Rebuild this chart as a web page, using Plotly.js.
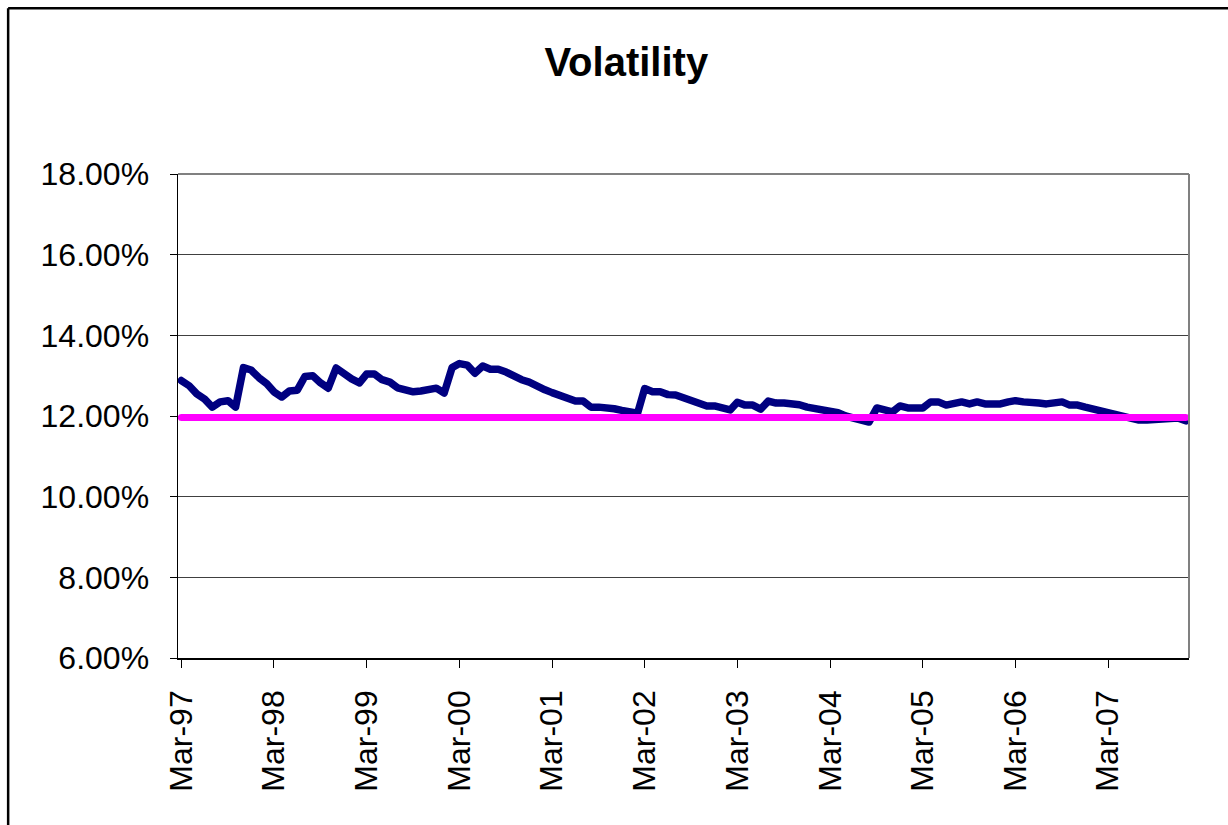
<!DOCTYPE html>
<html>
<head>
<meta charset="utf-8">
<script src="https://cdn.plot.ly/plotly-3.0.1.min.js"></script>
<style>
  html, body { margin: 0; padding: 0; background: #ffffff; }
  #chart { width: 1228px; height: 825px; }
  #chart .scatterlayer path.js-line { stroke-linejoin: round; stroke-linecap: round; }
</style>
</head>
<body>
<div id="chart"></div>
<script>
// ---- data ----
const startYear = 1997;
const startMonth = 3; // March
const volatility = [
  12.88, 12.75, 12.55, 12.42, 12.22, 12.35, 12.38, 12.22, 13.20, 13.14,
  12.95, 12.80, 12.60, 12.47, 12.62, 12.64, 12.98, 13.00, 12.82, 12.69,
  13.19, 13.05, 12.92, 12.82, 13.04, 13.04, 12.90, 12.84, 12.70, 12.65,
  12.60, 12.62, 12.65, 12.69, 12.57, 13.20, 13.30, 13.26, 13.06, 13.24,
  13.16, 13.16, 13.09, 12.97, 12.90, 12.84, 12.72, 12.65, 12.58, 12.50,
  12.42, 12.37, 12.37, 12.22, 12.22, 12.22, 12.18, 12.14, 12.10, 12.07,
  12.68, 12.60, 12.60, 12.53, 12.52, 12.45, 12.38, 12.30, 12.25, 12.25,
  12.20, 12.15, 12.34, 12.27, 12.27, 12.17, 12.37, 12.32, 12.32, 12.32,
  12.28, 12.22, 12.18, 12.15, 12.15, 12.08, 12.00, 11.95, 11.86, 11.85,
  12.20, 12.15, 12.10, 12.25, 12.20, 12.20, 12.20, 12.35, 12.35, 12.27,
  12.30, 12.35, 12.30, 12.35, 12.30, 12.30, 12.30, 12.35, 12.38, 12.35,
  12.35, 12.32, 12.30, 12.33, 12.35, 12.27, 12.27, 12.22, 12.17, 12.13,
  12.10, 12.03, 11.97, 11.92, 11.90, 11.90, 11.92, 11.95, 11.95, 11.95,
  11.88
];
const averageLevel = 11.96;
const yTickVals = [6, 8, 10, 12, 14, 16, 18];

// monthly date labels
const dates = volatility.map((_, i) => {
  const total = (startMonth - 1) + i;
  const y = startYear + Math.floor(total / 12);
  const m = (total % 12) + 1;
  return y + '-' + String(m).padStart(2, '0') + '-01';
});

const traces = [
  {
    x: dates,
    y: volatility,
    type: 'scatter',
    mode: 'lines',
    line: { color: '#000080', width: 7.5 },
    hoverinfo: 'skip',
    showlegend: false
  },
  {
    x: [dates[0], dates[dates.length - 1]],
    y: [averageLevel, averageLevel],
    type: 'scatter',
    mode: 'lines',
    line: { color: '#FF00FF', width: 7 },
    hoverinfo: 'skip',
    showlegend: false
  }
];

const font = 'Liberation Sans, Arial, sans-serif';

const layout = {
  width: 1228,
  height: 825,
  margin: { l: 178, r: 39, t: 174, b: 167 },
  paper_bgcolor: '#ffffff',
  plot_bgcolor: '#ffffff',
  font: { family: font, color: '#000000' },
  title: {
    text: '<b>Volatility</b>',
    font: { family: font, size: 40, color: '#000000' },
    x: 0.51, xanchor: 'center',
    y: 0.925, yanchor: 'middle'
  },
  xaxis: {
    type: 'date',
    range: ['1997-02-16', '2008-01-14'],
    tick0: '1997-03-01',
    dtick: 'M12',
    tickformat: '%b-%y',
    tickangle: -90,
    showgrid: false,
    zeroline: false,
    showline: true,
    linecolor: '#000000',
    linewidth: 1.5,
    ticks: 'outside',
    ticklen: 8,
    tickcolor: '#000000',
    tickfont: { family: font, size: 32, color: '#000000' },
    ticklabelstandoff: 10,
    fixedrange: true
  },
  yaxis: {
    range: [6, 18],
    tickvals: yTickVals,
    ticktext: yTickVals.map(v => v.toFixed(2) + '%'),
    showgrid: true,
    gridcolor: '#404040',
    gridwidth: 1,
    zeroline: false,
    showline: true,
    linecolor: '#000000',
    linewidth: 1.5,
    ticks: 'outside',
    ticklen: 7,
    tickcolor: '#000000',
    tickfont: { family: font, size: 32, color: '#000000' },
    ticklabelstandoff: 14,
    fixedrange: true
  },
  shapes: [
    // plot frame top and right (gray)
    { type: 'line', xref: 'paper', yref: 'paper', x0: 0, x1: 1, y0: 1, y1: 1,
      line: { color: '#808080', width: 2 }, layer: 'above' },
    { type: 'line', xref: 'paper', yref: 'paper', x0: 1, x1: 1, y0: 0, y1: 1,
      line: { color: '#808080', width: 2 }, layer: 'above' },
    // outer chart border (top and left visible)
    { type: 'line', xref: 'paper', yref: 'paper', x0: -0.168, x1: 1.05, y0: 1.3425, y1: 1.3425,
      line: { color: '#000000', width: 2.5 } },
    { type: 'line', xref: 'paper', yref: 'paper', x0: -0.168, x1: -0.168, y0: -0.36, y1: 1.3425,
      line: { color: '#000000', width: 2.5 } }
  ]
};

Plotly.newPlot('chart', traces, layout, { staticPlot: true, displayModeBar: false });
</script>
</body>
</html>
